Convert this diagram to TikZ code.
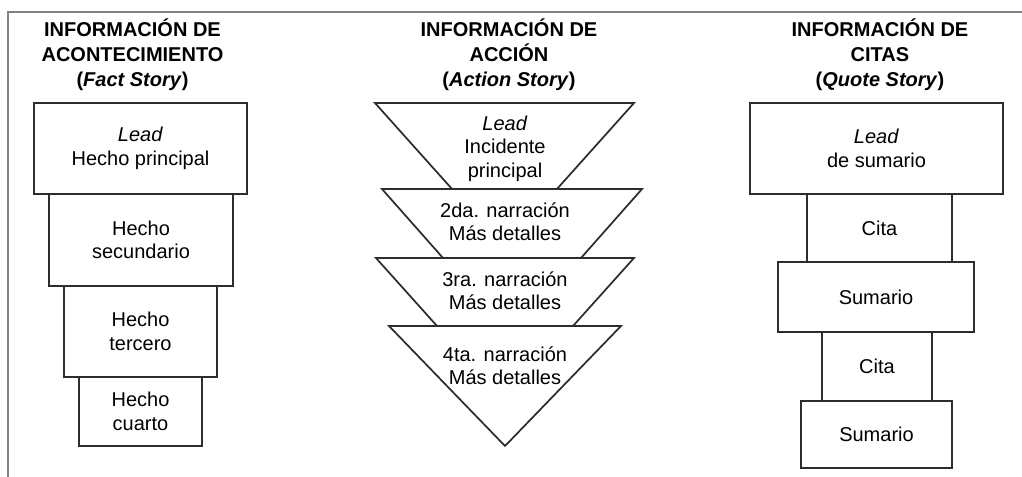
\documentclass[tikz,border=0pt]{standalone}
\usepackage{fontspec}
\setmainfont{Liberation Sans}
\definecolor{linec}{RGB}{45,45,45}
\definecolor{framec}{RGB}{130,130,130}
\begin{document}
\begin{tikzpicture}[x=0.75pt,y=-0.75pt,
  box/.style={draw=linec, line width=1.3pt, inner sep=0pt, align=center,
    font=\fontsize{15}{17.6}\selectfont},
  shapeline/.style={draw=linec, line width=1.3pt, line join=miter},
  txt/.style={inner sep=0pt, align=center, font=\fontsize{15}{17.6}\selectfont},
  ttl/.style={inner sep=0pt, anchor=base, font=\fontsize{15}{18.75}\selectfont\bfseries}]
\useasboundingbox (0,0) rectangle (1022,477);
% frame
\draw[framec, line width=1.2pt] (8,477) -- (8,12) -- (1022,12);

% titles
\node[ttl] (t1a) at (132.5,37) {INFORMACIÓN DE};
\node[ttl] (t1b) at (132.5,62) {ACONTECIMIENTO};
\node[ttl] (t1c) at (132.5,87) {(\textit{Fact Story})};
\node[ttl] (t2a) at (509,37) {INFORMACIÓN DE};
\node[ttl] (t2b) at (509,62) {ACCIÓN};
\node[ttl] (t2c) at (509,87) {(\textit{Action Story})};
\node[ttl] (t3a) at (880,37) {INFORMACIÓN DE};
\node[ttl] (t3b) at (880,62) {CITAS};
\node[ttl] (t3c) at (880,87) {(\textit{Quote Story})};

% column 1
\node[box, minimum width=159.75pt, minimum height=68.25pt] (a1) at (140.5,148.5) {\textit{Lead}\\Hecho principal};
\node[box, minimum width=138pt, minimum height=69pt] (a2) at (141,240) {Hecho\\secundario};
\node[box, minimum width=114.75pt, minimum height=68.25pt] (a3) at (140.5,331.5) {Hecho\\tercero};
\node[box, minimum width=92.25pt, minimum height=51.75pt] (a4) at (140.5,411.5) {Hecho\\cuarto};

% column 2
\draw[shapeline] (375,103) -- (634,103) -- (557,189) -- (452,189) -- cycle;
\draw[shapeline] (382,189) -- (642,189) -- (581,258) -- (443,258) -- cycle;
\draw[shapeline] (376,258) -- (634,258) -- (573,326) -- (437,326) -- cycle;
\draw[shapeline] (389,326) -- (621,326) -- (505,446) -- cycle;
\node[txt] (b1) at (505,148.5) {\textit{Lead}\\Incidente\\principal};
\node[txt] (b2) at (505,222) {2da. narración\\Más detalles};
\node[txt] (b3) at (505,290.5) {3ra. narración\\Más detalles};
\node[txt] (b4) at (505,365.5) {4ta. narración\\Más detalles};

% column 3
\node[box, minimum width=189.75pt, minimum height=68.25pt] (c1) at (876.5,148.5) {\textit{Lead}\\de sumario};
\node[box, minimum width=108.75pt, minimum height=51pt] (c2) at (879.5,228) {Cita};
\node[box, minimum width=147pt, minimum height=52.5pt] (c3) at (876,297) {Sumario};
\node[box, minimum width=82.5pt, minimum height=51.75pt] (c4) at (877,366.5) {Cita};
\node[box, minimum width=113.25pt, minimum height=50.25pt] (c5) at (876.5,434.5) {Sumario};
\end{tikzpicture}
\end{document}
